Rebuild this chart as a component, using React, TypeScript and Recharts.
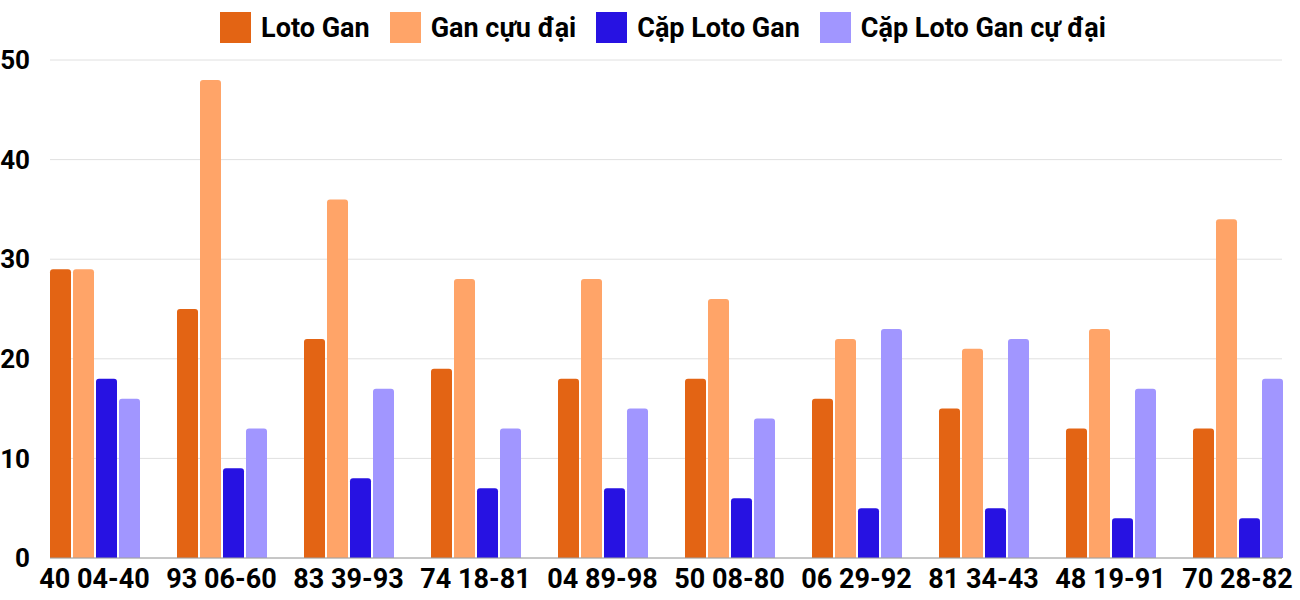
import React from 'react';
import { BarChart, Bar, XAxis, YAxis, CartesianGrid, Legend } from 'recharts';

const categories = ['40 04-40', '93 06-60', '83 39-93', '74 18-81', '04 89-98', '50 08-80', '06 29-92', '81 34-43', '48 19-91', '70 28-82'];
const lotoGan = [29, 25, 22, 19, 18, 18, 16, 15, 13, 13];
const ganCucDai = [29, 48, 36, 28, 28, 26, 22, 21, 23, 34];
const capLotoGan = [18, 9, 8, 7, 7, 6, 5, 5, 4, 4];
const capCucDai = [16, 13, 17, 13, 15, 14, 23, 22, 17, 18];
const yTicks = [0, 10, 20, 30, 40, 50];

const series = [
  { key: 'lotoGan', name: 'Loto Gan', color: '#E36414' },
  { key: 'ganCucDai', name: 'Gan cựu đại', color: '#FFA468' },
  { key: 'capLotoGan', name: 'Cặp Loto Gan', color: '#2712E2' },
  { key: 'capCucDai', name: 'Cặp Loto Gan cự đại', color: '#A196FF' },
];

const data = categories.map((name, i) => ({
  name,
  lotoGan: lotoGan[i],
  ganCucDai: ganCucDai[i],
  capLotoGan: capLotoGan[i],
  capCucDai: capCucDai[i],
}));

const font = 'Roboto, sans-serif';

const renderLegend = () => (
  <div style={{ display: 'flex', justifyContent: 'center', gap: 20, fontFamily: font, height: 31 }}>
    {series.map(s => (
      <div key={s.key} style={{ display: 'flex', alignItems: 'center' }}>
        <span style={{ width: 31, height: 31, background: s.color, display: 'inline-block', marginRight: 10 }} />
        <span style={{ fontSize: 27, fontWeight: 700, color: '#000' }}>{s.name}</span>
      </div>
    ))}
  </div>
);

const App: React.FC = () => {
  return (
    <div style={{ position: 'absolute', left: 0, top: 0, width: 1300, height: 600, background: '#fff' }}>
      <BarChart
        width={1300}
        height={600}
        data={data}
        margin={{ top: 29, right: 18, bottom: 0, left: 0 }}
        barCategoryGap={19}
        barGap={2}
      >
        <CartesianGrid vertical={false} stroke="#e0e0e0" />
        <Legend
          verticalAlign="top"
          content={renderLegend}
          wrapperStyle={{ top: 12, left: 0, width: 1326 }}
        />
        <XAxis
          dataKey="name"
          interval={0}
          padding={{ left: -19, right: -19 }}
          axisLine={{ stroke: '#9e9e9e' }}
          tickLine={false}
          height={42}
          tickMargin={5}
          tick={{ fill: '#000', fontSize: 27, fontWeight: 700, fontFamily: font }}
        />
        <YAxis
          domain={[0, 50]}
          ticks={yTicks}
          width={50}
          axisLine={false}
          tickLine={false}
          tickMargin={14}
          tick={{ fill: '#000', fontSize: 26, fontWeight: 700, fontFamily: font }}
        />
        {series.map(s => (
          <Bar
            key={s.key}
            dataKey={s.key}
            name={s.name}
            fill={s.color}
            radius={[3, 3, 0, 0]}
            isAnimationActive={false}
          />
        ))}
      </BarChart>
    </div>
  );
};

export default App;
